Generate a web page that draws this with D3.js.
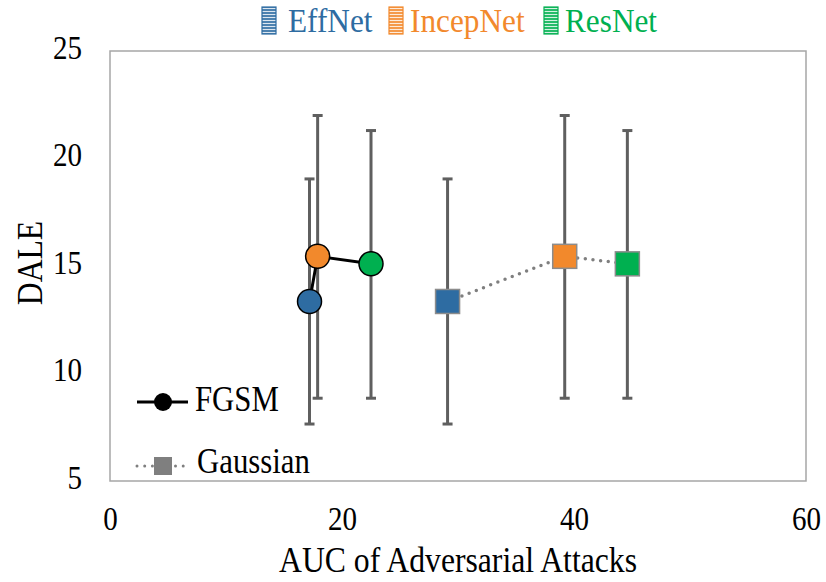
<!DOCTYPE html>
<html>
<head>
<meta charset="utf-8">
<script src="https://cdn.jsdelivr.net/npm/d3@7"></script>
<style>
  body { margin: 0; background: #fff; }
  text { font-family: "Liberation Serif", "Times New Roman", serif; }
</style>
</head>
<body>
<svg id="chart" width="826" height="582"></svg>
<script>
// models and their colours
const models = ["EffNet", "IncepNet", "ResNet"];
const colors = ["#2e6ca2", "#f2892c", "#00b050"];

// x: AUC of the two attacks, y: DALE mean and error range
const fgsmAuc = [17.2, 17.9, 22.5];
const gaussAuc = [29.1, 39.2, 44.6];
const dale = [13.35, 15.45, 15.1];
const daleLow = [7.65, 8.85, 8.85];
const daleHigh = [19.05, 22.0, 21.3];

const xTicks = [0, 20, 40, 60];
const yTicks = [5, 10, 15, 20, 25];

const svg = d3.select("#chart");
const margin = { left: 110, right: 20, top: 51, bottom: 101 };
const W = 826, H = 582;
const sx = 0.88; // text in the original is a little narrower

const x = d3.scaleLinear().domain([0, 60]).range([margin.left, W - margin.right]);
const y = d3.scaleLinear().domain([5, 25]).range([H - margin.bottom, margin.top]);

// striped pattern for top legend icons
const defs = svg.append("defs");
colors.forEach((c, i) => {
    const p = defs.append("pattern")
        .attr("id", "stripe" + i)
        .attr("patternUnits", "userSpaceOnUse")
        .attr("width", 4).attr("height", 3);
    p.append("rect").attr("width", 4).attr("height", 3).attr("fill", c).attr("opacity", 0.85);
    p.append("rect").attr("y", 2).attr("width", 4).attr("height", 1).attr("fill", "#fff").attr("opacity", 0.8);
});

// plot frame
svg.append("rect")
    .attr("x", x(0)).attr("y", y(25))
    .attr("width", x(60) - x(0)).attr("height", y(5) - y(25))
    .attr("fill", "none").attr("stroke", "#a6a6a6").attr("stroke-width", 1.5);

// axes (labels only)
const xAxis = svg.append("g")
    .attr("transform", `translate(0,${y(5)})`)
    .call(d3.axisBottom(x).tickValues(xTicks).tickSize(0).tickPadding(0));
xAxis.select(".domain").remove();
xAxis.selectAll("text")
    .attr("y", 49).attr("dy", 0)
    .attr("transform", `scale(${sx},1)`)
    .attr("font-size", 33).attr("fill", "#000")
    .style("font-family", "Liberation Serif, serif");

const yAxis = svg.append("g")
    .attr("transform", `translate(82,0)`)
    .call(d3.axisLeft(y).tickValues(yTicks).tickSize(0).tickPadding(0));
yAxis.select(".domain").remove();
yAxis.selectAll("text")
    .attr("x", 0)
    .attr("dy", "0.22em")
    .attr("transform", `scale(${sx},1)`)
    .attr("font-size", 33).attr("fill", "#000")
    .style("font-family", "Liberation Serif, serif");

svg.append("text")
    .attr("transform", `translate(${(x(0) + x(60)) / 2},572) scale(${sx},1)`)
    .attr("text-anchor", "middle")
    .attr("font-size", 36)
    .text("AUC of Adversarial Attacks");

svg.append("text")
    .attr("transform", `translate(42,263) rotate(-90) scale(${sx},1)`)
    .attr("text-anchor", "middle")
    .attr("font-size", 36)
    .text("DALE");

// error bars
const errG = svg.append("g").attr("stroke", "#5f5f5f").attr("stroke-width", 3);
[fgsmAuc, gaussAuc].forEach(xs => {
    xs.forEach((xv, i) => {
        errG.append("line")
            .attr("x1", x(xv)).attr("x2", x(xv))
            .attr("y1", y(daleLow[i])).attr("y2", y(daleHigh[i]));
        [daleLow[i], daleHigh[i]].forEach(v => {
            errG.append("line")
                .attr("x1", x(xv) - 5).attr("x2", x(xv) + 5)
                .attr("y1", y(v)).attr("y2", y(v));
        });
    });
});

// connecting lines
const line = d3.line().x(d => x(d[0])).y(d => y(d[1]));
svg.append("path")
    .datum(fgsmAuc.map((v, i) => [v, dale[i]]))
    .attr("d", line)
    .attr("fill", "none").attr("stroke", "#000").attr("stroke-width", 3);

svg.append("path")
    .datum(gaussAuc.map((v, i) => [v, dale[i]]))
    .attr("d", line)
    .attr("fill", "none").attr("stroke", "#7f7f7f").attr("stroke-width", 3.5)
    .attr("stroke-dasharray", "0 7.7").attr("stroke-linecap", "round");

// markers
svg.selectAll(".fgsm")
    .data(fgsmAuc)
    .join("circle")
    .attr("class", "fgsm")
    .attr("cx", d => x(d)).attr("cy", (d, i) => y(dale[i]))
    .attr("r", 12)
    .attr("fill", (d, i) => colors[i])
    .attr("stroke", "#000").attr("stroke-width", 1.5);

svg.selectAll(".gauss")
    .data(gaussAuc)
    .join("rect")
    .attr("class", "gauss")
    .attr("x", d => x(d) - 12).attr("y", (d, i) => y(dale[i]) - 12)
    .attr("width", 24).attr("height", 24)
    .attr("fill", (d, i) => colors[i])
    .attr("stroke", "#8c8c8c").attr("stroke-width", 1.5);

// top legend
const topLeg = [
    { x: 262, tx: 288 },
    { x: 389, tx: 410 },
    { x: 544, tx: 565 }
];
models.forEach((m, i) => {
    svg.append("rect")
        .attr("x", topLeg[i].x).attr("y", 7)
        .attr("width", 14).attr("height", 27)
        .attr("fill", `url(#stripe${i})`)
        .attr("stroke", colors[i]).attr("stroke-width", 1.2);
    svg.append("text")
        .attr("transform", `translate(${topLeg[i].tx},32) scale(0.92,1)`)
        .attr("font-size", 34)
        .attr("fill", colors[i])
        .text(m);
});

// inner legend
const lg = svg.append("g");
lg.append("line")
    .attr("x1", 137).attr("x2", 188).attr("y1", 402).attr("y2", 402)
    .attr("stroke", "#000").attr("stroke-width", 3);
lg.append("circle")
    .attr("cx", 163).attr("cy", 402).attr("r", 9)
    .attr("fill", "#000");
lg.append("text")
    .attr("transform", `translate(195,411) scale(${sx},1)`)
    .attr("font-size", 35)
    .text("FGSM");

lg.append("line")
    .attr("x1", 137).attr("x2", 188).attr("y1", 466).attr("y2", 466)
    .attr("stroke", "#7f7f7f").attr("stroke-width", 3)
    .attr("stroke-dasharray", "0 7.7").attr("stroke-linecap", "round");
lg.append("rect")
    .attr("x", 154).attr("y", 457).attr("width", 18).attr("height", 18)
    .attr("fill", "#7f7f7f");
lg.append("text")
    .attr("transform", `translate(197,473) scale(${sx},1)`)
    .attr("font-size", 35)
    .text("Gaussian");
</script>
</body>
</html>
